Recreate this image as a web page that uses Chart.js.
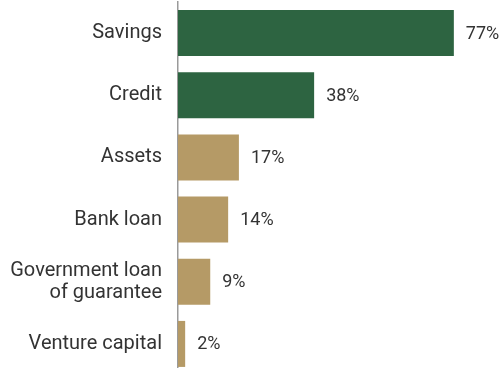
<!DOCTYPE html>
<html>
<head>
<meta charset="utf-8">
<script src="https://cdn.jsdelivr.net/npm/chart.js@4"></script>
<style>
  html, body { margin: 0; padding: 0; background: #fff; overflow: hidden; }
  #wrap { position: relative; width: 504px; height: 376px; }
</style>
</head>
<body>
<div id="wrap"><canvas id="fundingChart"></canvas></div>
<script>
// Sources de financement (%)
const categories = ['Savings', 'Credit', 'Assets', 'Bank loan', ['Government loan', 'of guarantee'], 'Venture capital'];
const shares = [77, 38, 17, 14, 9, 2];
const barColors = ['#2d6441', '#2d6441', '#b59a66', '#b59a66', '#b59a66', '#b59a66'];

// Étiquettes de valeur à droite des barres
const valueLabels = {
    id: 'valueLabels',
    afterDatasetsDraw(chart) {
        const ctx = chart.ctx;
        const meta = chart.getDatasetMeta(0);
        ctx.save();
        ctx.font = '18px Roboto';
        ctx.fillStyle = '#333333';
        ctx.textAlign = 'left';
        ctx.textBaseline = 'middle';
        meta.data.forEach(function(bar, i) {
            ctx.fillText(shares[i] + '%', bar.x + 12, bar.y + 1);
        });
        ctx.restore();
    }
};

function createFundingChart() {
    const ctx = document.getElementById('fundingChart').getContext('2d');
    new Chart(ctx, {
        type: 'bar',
        data: {
            labels: categories,
            datasets: [{
                data: shares,
                backgroundColor: barColors,
                barPercentage: 0.74,
                categoryPercentage: 1
            }]
        },
        options: {
            indexAxis: 'y',
            responsive: true,
            maintainAspectRatio: false,
            animation: false,
            layout: { padding: { top: 2, right: 0, bottom: 1, left: 0 } },
            plugins: {
                legend: { display: false },
                tooltip: { enabled: false }
            },
            scales: {
                x: {
                    min: 0,
                    max: 91,
                    display: false,
                    grid: { display: false }
                },
                y: {
                    afterFit(scale) {
                        scale.width = 178;
                        scale.paddingTop = 0;
                        scale.paddingBottom = 0;
                    },
                    grid: { display: false, drawTicks: false },
                    border: { display: true, color: '#9a9a9a', width: 1.5 },
                    ticks: {
                        padding: 16,
                        color: '#333333',
                        font: { family: 'Roboto', size: 20, lineHeight: 1.1 }
                    }
                }
            }
        },
        plugins: [valueLabels]
    });
}

window.onload = function() {
    createFundingChart();
};
</script>
</body>
</html>
